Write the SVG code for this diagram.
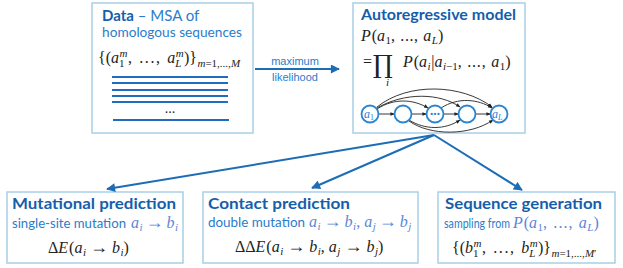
<svg xmlns="http://www.w3.org/2000/svg" width="623" height="268" viewBox="0 0 623 268">
<style>
.box{fill:#fff;stroke:#a9cfe9;stroke-width:1.5}
.t{font-family:Lato,"Open Sans",sans-serif}
.ttl{font-weight:bold;fill:#155eab;font-size:15px}
.bd{fill:#2b7cca;font-size:14px}
.lbl{font-family:"Liberation Sans",Arial,sans-serif;font-size:11px;fill:#2b7cca}
.m{font-family:"Liberation Serif","Times New Roman",serif;fill:#222;font-size:16px}
.mb{fill:#5b86d6}
.i{font-style:italic}
.s{font-size:11px}
.ar{font-size:18px}
.conn{stroke:#1c6db6;stroke-width:2;fill:none}
.msa{stroke:#1f6cc0;stroke-width:2}
.gn{fill:#fff;stroke:#2a86d0;stroke-width:1.8}
.ge{stroke:#222;stroke-width:0.9;fill:none;marker-end:url(#ka)}
.gl{font-family:"Liberation Serif",serif;font-style:italic;font-size:12px;fill:#2a7fd4}
</style>
<defs>
<marker id="ba" viewBox="0 0 10 10" refX="9" refY="5" markerWidth="5" markerHeight="4.5" orient="auto" markerUnits="strokeWidth">
<path d="M0,0 L10,5 L0,10 Z" fill="#1c6db6"/>
</marker>
<marker id="ka" viewBox="0 0 10 10" refX="9" refY="5" markerWidth="5" markerHeight="5" orient="auto" markerUnits="strokeWidth">
<path d="M0,1 L10,5 L0,9 Z" fill="#222"/>
</marker>
</defs>

<g id="data">
<rect class="box" x="92" y="3" width="161" height="130"/>
<text class="t" x="102" y="21" font-size="15" fill="#2b7cca"><tspan font-weight="bold" fill="#155eab">Data</tspan> – MSA of</text>
<text class="t bd" x="102" y="37" textLength="140" lengthAdjust="spacingAndGlyphs">homologous sequences</text>
<text class="m" x="98" y="63">{(<tspan class="i">a</tspan><tspan class="s i" dx="0.5" dy="-6">m</tspan><tspan class="s" dx="-8.4" dy="10">1</tspan><tspan dx="3.5" dy="-4" letter-spacing="1.6">, ..., </tspan><tspan class="i">a</tspan><tspan class="s i" dx="0.5" dy="-6">m</tspan><tspan class="s i" dx="-8.4" dy="10">L</tspan><tspan dx="2.5" dy="-4">)}</tspan><tspan class="s" dx="0.5" dy="4"><tspan class="i">m</tspan>=1,...,<tspan class="i">M</tspan></tspan></text>
<line class="msa" x1="112" y1="77" x2="228" y2="77"/>
<line class="msa" x1="112" y1="83" x2="228" y2="83"/>
<line class="msa" x1="112" y1="90" x2="228" y2="90"/>
<line class="msa" x1="112" y1="96" x2="228" y2="96"/>
<line class="msa" x1="112" y1="102" x2="228" y2="102"/>
<text x="170" y="113" font-family="Liberation Serif,serif" font-size="14" fill="#222" text-anchor="middle">...</text>
<line class="msa" x1="113" y1="120" x2="229" y2="120"/>
</g>

<g id="ar">
<rect class="box" x="353" y="3" width="172" height="130"/>
<text class="t ttl" x="361" y="20" textLength="155" lengthAdjust="spacingAndGlyphs">Autoregressive model</text>
<text class="m" x="361" y="41"><tspan class="i">P</tspan><tspan dx="1">(</tspan><tspan class="i">a</tspan><tspan class="s" dx="0.5" dy="3">1</tspan><tspan dy="-3" letter-spacing="0.6">, ..., </tspan><tspan class="i">a</tspan><tspan class="s i" dx="0.5" dy="3">L</tspan><tspan dy="-3">)</tspan></text>
<text class="m" x="363" y="67">=</text>
<text x="373" y="73" font-family="DejaVu Serif,serif" font-size="25" fill="#222">∏</text>
<text class="m i s" x="386" y="86">i</text>
<text class="m" x="403" y="67"><tspan class="i">P</tspan><tspan dx="1">(</tspan><tspan class="i">a</tspan><tspan class="s i" dx="0.5" dy="3">i</tspan><tspan dx="0.5" dy="-3">|</tspan><tspan class="i">a</tspan><tspan class="s" dx="0.5" dy="3"><tspan class="i">i</tspan>−1</tspan><tspan dy="-3" letter-spacing="0.8">, ..., </tspan><tspan class="i">a</tspan><tspan class="s" dx="0.5" dy="3">1</tspan><tspan dy="-3">)</tspan></text>
<g id="graph">
<line class="ge" x1="378.5" y1="114" x2="394.5" y2="114"/>
<line class="ge" x1="411.5" y1="114" x2="426.5" y2="114"/>
<line class="ge" x1="443.5" y1="114" x2="458.5" y2="114"/>
<line class="ge" x1="475.5" y1="114" x2="490.5" y2="114"/>
<path class="ge" d="M377,109 C394,98 413,99 428,108"/>
<path class="ge" d="M377,108 C405,92 440,93 460,107"/>
<path class="ge" d="M377,107 C408,82 462,84 492,107"/>
<path class="ge" d="M441,108 C458,97 478,99 492,108"/>
<path class="ge" d="M409,120 C425,130 445,130 460,120"/>
<path class="ge" d="M409,121 C430,136 470,136 493,120"/>
<circle class="gn" cx="370" cy="114" r="8.5"/>
<circle class="gn" cx="403" cy="114" r="8.5"/>
<circle class="gn" cx="435" cy="114" r="8.5"/>
<circle class="gn" cx="467" cy="114" r="8.5"/>
<circle class="gn" cx="499" cy="114" r="8.5"/>
<text class="gl" x="364" y="118">a<tspan font-size="8" font-style="normal" dy="2">1</tspan></text>
<text x="435" y="117" font-family="Lato,sans-serif" font-weight="bold" font-size="12" fill="#2a7fd4" text-anchor="middle">···</text>
<text class="gl" x="492" y="118">a<tspan font-size="8" dy="2">L</tspan></text>
</g>
</g>

<g id="mut">
<rect class="box" x="7" y="192" width="176" height="71"/>
<text class="t ttl" x="12" y="209" textLength="164" lengthAdjust="spacingAndGlyphs">Mutational prediction</text>
<text class="t bd" x="12" y="228" textLength="114" lengthAdjust="spacingAndGlyphs">single-site mutation</text>
<text class="m mb" x="131" y="228"><tspan class="i">a</tspan><tspan class="s i" dx="0.5" dy="3">i</tspan><tspan class="ar" dx="3" dy="-3">→</tspan><tspan class="i" dx="3">b</tspan><tspan class="s i" dx="0.5" dy="3">i</tspan></text>
<text class="m" x="48" y="253">Δ<tspan class="i">E</tspan><tspan dx="1">(</tspan><tspan class="i">a</tspan><tspan class="s i" dx="0.5" dy="3">i</tspan><tspan class="ar" dx="4" dy="-3">→</tspan><tspan class="i" dx="4">b</tspan><tspan class="s i" dx="0.5" dy="3">i</tspan><tspan dy="-3">)</tspan></text>
</g>

<g id="contact">
<rect class="box" x="203" y="192" width="215" height="71"/>
<text class="t ttl" x="208" y="209" textLength="142" lengthAdjust="spacingAndGlyphs">Contact prediction</text>
<text class="t bd" x="208" y="227" textLength="97" lengthAdjust="spacingAndGlyphs">double mutation</text>
<text class="m mb" x="309" y="227"><tspan class="i">a</tspan><tspan class="s i" dx="0.5" dy="3">i</tspan><tspan class="ar" dx="3" dy="-3">→</tspan><tspan class="i" dx="3">b</tspan><tspan class="s i" dx="0.5" dy="3">i</tspan><tspan dy="-3">, </tspan><tspan class="i">a</tspan><tspan class="s i" dx="0.5" dy="3">j</tspan><tspan class="ar" dx="3" dy="-3">→</tspan><tspan class="i" dx="3">b</tspan><tspan class="s i" dx="0.5" dy="3">j</tspan></text>
<text class="m" x="235" y="252">ΔΔ<tspan class="i">E</tspan><tspan dx="1">(</tspan><tspan class="i">a</tspan><tspan class="s i" dx="0.5" dy="3">i</tspan><tspan class="ar" dx="4" dy="-3">→</tspan><tspan class="i" dx="4">b</tspan><tspan class="s i" dx="0.5" dy="3">i</tspan><tspan dy="-3">, </tspan><tspan class="i">a</tspan><tspan class="s i" dx="0.5" dy="3">j</tspan><tspan class="ar" dx="4" dy="-3">→</tspan><tspan class="i" dx="4">b</tspan><tspan class="s i" dx="0.5" dy="3">j</tspan><tspan dy="-3">)</tspan></text>
</g>

<g id="seq">
<rect class="box" x="438" y="192" width="177" height="71"/>
<text class="t ttl" x="445" y="209" textLength="157" lengthAdjust="spacingAndGlyphs">Sequence generation</text>
<text class="t bd" x="444" y="228" font-size="13" textLength="66" lengthAdjust="spacingAndGlyphs">sampling from</text>
<text class="m mb" x="513" y="228"><tspan class="i">P</tspan><tspan dx="1">(</tspan><tspan class="i">a</tspan><tspan class="s" dx="0.5" dy="3">1</tspan><tspan dy="-3" letter-spacing="1.1">, ..., </tspan><tspan class="i">a</tspan><tspan class="s i" dx="0.5" dy="3">L</tspan><tspan dy="-3">)</tspan></text>
<text class="m" x="452" y="253">{(<tspan class="i">b</tspan><tspan class="s i" dx="0.5" dy="-6">m</tspan><tspan class="s" dx="-8.4" dy="10">1</tspan><tspan dx="3.5" dy="-4" letter-spacing="1.6">, ..., </tspan><tspan class="i">b</tspan><tspan class="s i" dx="0.5" dy="-6">m</tspan><tspan class="s i" dx="-8.4" dy="10">L</tspan><tspan dx="2.5" dy="-4">)}</tspan><tspan class="s" dx="0.5" dy="4"><tspan class="i">m</tspan>=1,...,<tspan class="i">M</tspan>′</tspan></text>
</g>

<g id="connectors">
<line class="conn" x1="255" y1="69" x2="339" y2="69" marker-end="url(#ba)"/>
<text class="lbl" x="295" y="65" text-anchor="middle">maximum</text>
<text class="lbl" x="295" y="81" text-anchor="middle">likelihood</text>
<line class="conn" x1="434" y1="135" x2="107" y2="189" marker-end="url(#ba)"/>
<line class="conn" x1="434" y1="135" x2="312" y2="188" marker-end="url(#ba)"/>
<line class="conn" x1="434" y1="135" x2="522" y2="190" marker-end="url(#ba)"/>
</g>
</svg>
